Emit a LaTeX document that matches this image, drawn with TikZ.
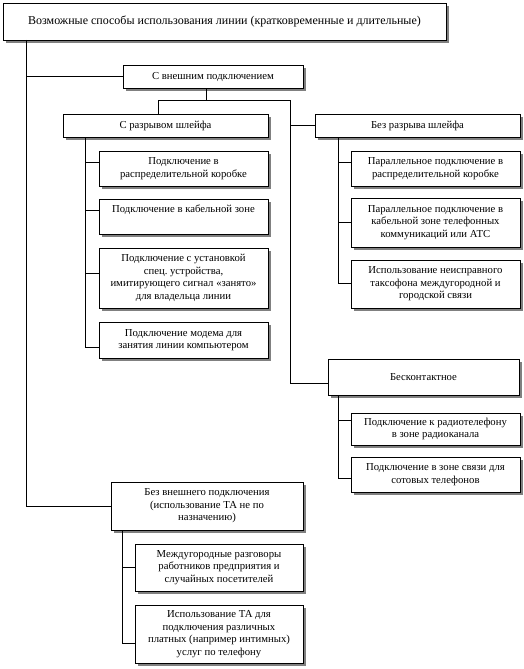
\documentclass[tikz,border=0pt]{standalone}
\usepackage{fontspec}
\setmainfont{Liberation Serif}
\usetikzlibrary{shadows,positioning}

\tikzset{
  box/.style={draw, fill=white, line width=0.9pt, align=center, inner sep=1pt,
    font=\fontsize{10.7}{12.5}\selectfont,
    drop shadow={shadow xshift=3pt, shadow yshift=-3pt, fill=black!50, opacity=1}},
  link/.style={line width=0.9pt}
}

\begin{document}
\frenchspacing
\begin{tikzpicture}[x=1pt, y=-1pt]
  \useasboundingbox (0,0) rectangle (523,669);
  % top level
  \node[box, minimum width=443pt, minimum height=37pt, font=\fontsize{12}{14}\selectfont] (top) at (224.5,21.5)
    {Возможные способы использования линии (кратковременные и длительные)};
  \node[box, minimum width=180pt, minimum height=23pt] (ext) at (213,76.5) {С внешним подключением};
  % left branch
  \node[box, minimum width=205pt, minimum height=23pt] (brk) at (165.5,125.5) {С разрывом шлейфа};
  \node[box, minimum width=169pt, minimum height=35pt] (b1) at (183.5,168.5)
    {Подключение в\\распределительной коробке};
  \node[box, minimum width=169pt, minimum height=35pt] (b2) at (183.5,216.5)
    {Подключение в кабельной зоне\\\strut};
  \node[box, minimum width=169pt, minimum height=60pt] (b3) at (183.5,278)
    {Подключение с установкой\\спец.\ устройства,\\имитирующего сигнал «занято»\\для владельца линии};
  \node[box, minimum width=169pt, minimum height=36pt] (b4) at (183.5,340)
    {Подключение модема для\\занятия линии компьютером};
  % right branch
  \node[box, minimum width=205pt, minimum height=23pt] (nbr) at (417.5,125.5) {Без разрыва шлейфа};
  \node[box, minimum width=169pt, minimum height=35pt] (n1) at (435.5,168.5)
    {Параллельное подключение в\\распределительной коробке};
  \node[box, minimum width=169pt, minimum height=49pt] (n2) at (435.5,222.5)
    {Параллельное подключение в\\кабельной зоне телефонных\\коммуникаций или АТС};
  \node[box, minimum width=169pt, minimum height=48pt] (n3) at (435.5,284)
    {Использование неисправного\\таксофона междугородной и\\городской связи};
  \node[box, minimum width=191pt, minimum height=36pt] (cl) at (423.5,377) {Бесконтактное};
  \node[box, minimum width=169pt, minimum height=32pt] (c1) at (435.5,429)
    {Подключение к радиотелефону\\в зоне радиоканала};
  \node[box, minimum width=169pt, minimum height=35pt] (c2) at (435.5,474.5)
    {Подключение в зоне связи для\\сотовых телефонов};
  % internal use
  \node[box, minimum width=192pt, minimum height=48pt] (int) at (207,506)
    {Без внешнего подключения\\(использование ТА не по\\назначению)};
  \node[box, minimum width=168pt, minimum height=47pt] (i1) at (219,567.5)
    {Междугородные разговоры\\работников предприятия и\\случайных посетителей};
  \node[box, minimum width=168pt, minimum height=58pt] (i2) at (219,634)
    {Использование ТА для\\подключения различных\\платных (например интимных)\\услуг по телефону};

  % trunk
  \coordinate (trunk) at (26,40);
  \draw[link] (trunk) |- (int.west);
  \draw[link] (trunk |- ext.west) -- (ext.west);
  % fork below ext
  \coordinate (rail) at (290,100);
  \draw[link] ([xshift=-7pt]ext.south) coordinate (fork) -- (fork |- rail);
  \draw[link] ([xshift=-7pt]brk.north) |- (rail) |- ([yshift=-6pt]cl.west);
  \draw[link] (rail |- nbr.west) -- (nbr.west);
  % sub rails
  \coordinate (brkrail) at ([xshift=23pt]brk.south west);
  \draw[link] (brkrail) |- ([yshift=-7pt]b4.west);
  \foreach \n/\s in {b1/6,b2/6,b3/5}
    \draw[link] ([yshift=\s pt]\n.west) coordinate (tip) -- (brkrail |- tip);
  \coordinate (nbrrail) at ([xshift=24pt]nbr.south west);
  \draw[link] (nbrrail) |- ([yshift=1pt]n3.west);
  \foreach \n/\s in {n1/6,n2/0}
    \draw[link] ([yshift=\s pt]\n.west) coordinate (tip) -- (nbrrail |- tip);
  \coordinate (clrail) at ([xshift=11pt]cl.south west);
  \draw[link] (clrail) |- ([yshift=-4pt]c2.west);
  \draw[link] ([yshift=9pt]c1.west) coordinate (tip) -- (clrail |- tip);
  \coordinate (intrail) at ([xshift=12pt]int.south west);
  \draw[link] (intrail) |- ([yshift=-9pt]i2.west);
  \draw[link] (intrail |- i1.west) -- (i1.west);
\end{tikzpicture}
\end{document}
